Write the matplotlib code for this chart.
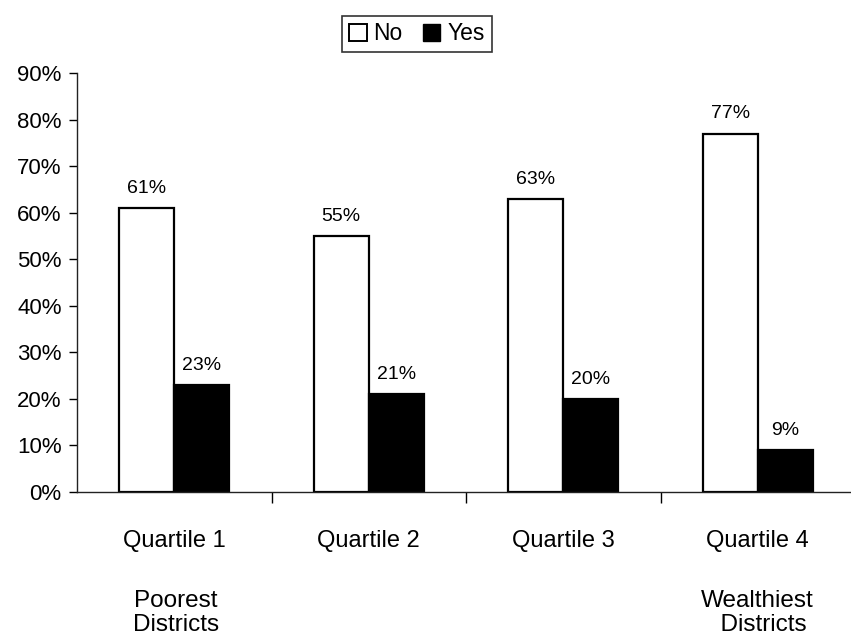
import numpy as np
import matplotlib.pyplot as plt
from matplotlib.patches import Patch

plt.rcParams['font.family'] = ['Liberation Sans', 'DejaVu Sans']

quartiles = ['Quartile 1', 'Quartile 2', 'Quartile 3', 'Quartile 4']
no_vals = [61, 55, 63, 77]
yes_vals = [23, 21, 20, 9]

fig = plt.figure(figsize=(8.51, 6.44), dpi=100)
ax = fig.add_axes([77/851, 152/644, 778/851, 419/644])

x = np.arange(len(quartiles))
w = 0.283
bars_no = ax.bar(x - w/2, no_vals, w, color='white', edgecolor='black', linewidth=1.6)
bars_yes = ax.bar(x + w/2, yes_vals, w, color='black', edgecolor='black', linewidth=1.6)

for b, v in zip(list(bars_no) + list(bars_yes), no_vals + yes_vals):
    ax.annotate(f'{v}%', (b.get_x() + b.get_width()/2, v), xytext=(0, 8),
                textcoords='offset points', ha='center', va='bottom', fontsize=14)

ax.set_xlim(-0.5, 3.5)
ax.set_ylim(0, 90)
ax.set_yticks(range(0, 91, 10))
ax.set_yticklabels([f'{t}%' for t in range(0, 91, 10)], fontsize=16)
ax.tick_params(axis='y', length=6, width=1, pad=5)

# category labels, with separator ticks between groups
ax.set_xticks(x)
ax.set_xticklabels(quartiles, fontsize=17)
ax.tick_params(axis='x', which='major', length=0, pad=27)
ax.set_xticks([0.5, 1.5, 2.5], minor=True)
ax.tick_params(axis='x', which='minor', length=8, width=1)

for s in ['top', 'right']:
    ax.spines[s].set_visible(False)
for s in ['left', 'bottom']:
    ax.spines[s].set_linewidth(1)
    ax.spines[s].set_color('#222222')

fig.text(176/851, 1 - 613/644, 'Poorest\nDistricts', ha='center', va='center',
         fontsize=17.5, linespacing=1.15)
fig.text(757/851, 1 - 613/644, 'Wealthiest\n  Districts', ha='center', va='center',
         fontsize=17.5, linespacing=1.15)

handles = [Patch(facecolor='white', edgecolor='black', linewidth=1.4, label='No'),
           Patch(facecolor='black', edgecolor='black', label='Yes')]
leg = fig.legend(handles=handles, loc='center', bbox_to_anchor=(417/851, 1 - 34/644),
                 ncol=2, fontsize=16.5, frameon=True, fancybox=False, edgecolor='black',
                 handlelength=0.75, handleheight=0.75, handletextpad=0.3, columnspacing=0.9,
                 borderpad=0.3, borderaxespad=0)
leg.get_frame().set_linewidth(1.2)

fig.savefig('out.png', dpi=100)
